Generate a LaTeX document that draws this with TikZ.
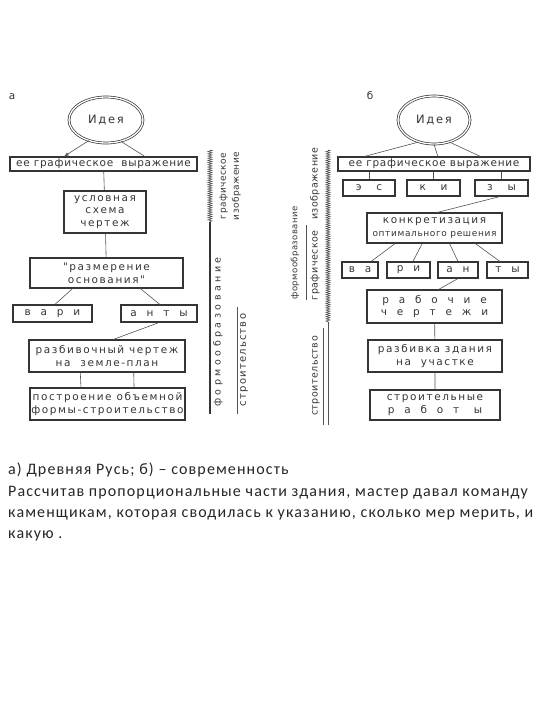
\documentclass[tikz,border=0pt]{standalone}
\usepackage{fontspec}
\setmainfont{Carlito}
\newfontfamily\scanfont[LetterSpace=15]{DejaVu Sans}
\newfontfamily\tightfont[LetterSpace=7]{DejaVu Sans}
\newfontfamily\sidefont[LetterSpace=5]{DejaVu Sans}
\newfontfamily\widefont[LetterSpace=12]{DejaVu Sans}
\newfontfamily\capfont[LetterSpace=7]{Carlito}
\usetikzlibrary{positioning, shapes.geometric, decorations.pathmorphing, calc, arrows}
\definecolor{ink}{HTML}{353535}
\newcommand\boxfont{\scanfont\fontsize{10.5}{12.5}\selectfont}
\newcommand\tightsize{\tightfont\fontsize{10.5}{12.5}\selectfont}
\newcommand\sidesize{\sidefont\fontsize{9.5}{12}\selectfont}

\tikzset{
  blk/.style = {draw = ink, line width = 1.1pt, inner sep = 0pt, align = center,
    text = ink, font = \boxfont},
  idea/.style = {ellipse, draw = ink, double, double distance = 1.3pt,
    line width = 0.7pt, inner sep = 0pt, text = ink, font = \scanfont\fontsize{11.5}{13}\selectfont},
  lnk/.style = {draw = ink!85, line width = 0.6pt},
  side/.style = {rotate = 90, inner sep = 0pt, text = ink, font = \sidesize,
    align = center},
  wavy/.style = {lnk, decorate, decoration = {zigzag, amplitude = 2pt,
    segment length = 2.2pt}},
  captxt/.style = {anchor = base west, inner sep = 0pt, text = black!85,
    font = \capfont\fontsize{16}{20}\selectfont}
}

\begin{document}
\begin{tikzpicture} [x = 1pt, y = -1pt]
    \useasboundingbox (0, 0) rectangle (540, 720);

    % а) Древняя Русь
    \node (labA) [text = ink, font = \boxfont] at (12, 97) {а};
    \node (idA) [idea, minimum width = 74pt, minimum height = 46pt] at (106, 120) {Идея};
    \node (grA) [blk, font = \tightsize, minimum width = 187pt, minimum height = 14pt] at (103.5, 164)
        {ее графическое\ \ выражение};
    \node (uslA) [blk, minimum width = 82pt, minimum height = 42pt] at (105, 212)
        {условная\\схема\\чертеж};
    \node (razA) [blk, minimum width = 153pt, minimum height = 30pt] at (106.5, 273)
        {"размерение\\основания"};
    \node (variA) [blk, minimum width = 79pt, minimum height = 17pt] at (52.5, 313.5)
        {в\ \ а\ \ р\ \ и};
    \node (antyA) [blk, minimum width = 76pt, minimum height = 17pt] at (159, 313.5)
        {а\ \ н\ \ т\ \ ы};
    \node (plnA) [blk, minimum width = 156pt, minimum height = 32pt] at (107, 356)
        {разбивочный чертеж\\на\ \ земле-план};
    \node (strA) [blk, minimum width = 155pt, minimum height = 32pt] at (107.5, 404)
        {построение объемной\\формы-строительство};

    \draw [lnk, -latex] (idA.230) -- ($(grA.north west)!0.29!(grA.north east)$);
    \draw [lnk] (idA.305) -- ($(grA.north west)!0.72!(grA.north east)$);
    \draw [lnk] (grA) -- (uslA) (uslA) -- (razA);
    \draw [lnk] ($(razA.south west)!0.28!(razA.south east)$) -- ($(variA.north west)!0.53!(variA.north east)$)
        ($(razA.south west)!0.72!(razA.south east)$) -- ($(antyA.north west)!0.51!(antyA.north east)$);
    \draw [lnk] (antyA.south) -- ($(plnA.north west)!0.54!(plnA.north east)$);
    \draw [lnk] ($(plnA.south west)!0.33!(plnA.south east)$) -- ($(strA.north west)!0.33!(strA.north east)$)
        ($(plnA.south west)!0.67!(plnA.south east)$) -- ($(strA.north west)!0.67!(strA.north east)$);

    \coordinate (zA1) at (210, 150); \coordinate (zA2) at (210, 222);
    \coordinate (zA3) at (210, 414);
    \draw [wavy] (zA1) -- (zA2);
    \draw [draw = ink, line width = 1.6pt] (zA2) -- (zA3);
    \node (formA) [side] at (218, 332) {ф\ о\ р\ м\ о\ о\ б\ р\ а\ з\ о\ в\ а\ н\ и\ е};
    \node (grfA) [side, font = \sidefont\fontsize{9}{13}\selectfont] at (230, 186)
        {графическое\\изображение};
    \coordinate (sA1) at (237, 307); \coordinate (sA2) at (237, 414);
    \draw [lnk, line width = 0.9pt] (sA1) -- (sA2);
    \node (stroiA) [side, font = \widefont\fontsize{10}{12}\selectfont] at (244, 360) {строительство};

    % б) современность
    \node (labB) [text = ink, font = \boxfont] at (370, 95) {б};
    \node (idB) [idea, minimum width = 72pt, minimum height = 48pt] at (434, 120) {Идея};
    \node (grB) [blk, font = \tightsize, minimum width = 192pt, minimum height = 14pt] at (434, 164)
        {ее графическое выражение};
    \node (esB) [blk, minimum width = 52pt, minimum height = 16pt] at (369, 188) {э\ \ \ с};
    \node (kiB) [blk, minimum width = 53pt, minimum height = 16pt] at (433.5, 188) {к\ \ \ и};
    \node (zyB) [blk, minimum width = 53pt, minimum height = 16pt] at (501.5, 188) {з\ \ \ ы};
    \node (knB) [blk, minimum width = 135pt, minimum height = 30pt] at (434.5, 228)
        {конкретизация\\{\tightfont\fontsize{9}{11}\selectfont оптимального решения}};
    \node (vaB) [blk, minimum width = 36pt, minimum height = 16pt] at (360, 270) {в\ \ а};
    \node (riB) [blk, minimum width = 43pt, minimum height = 16pt] at (408.5, 270) {р\ \ и};
    \node (anB) [blk, minimum width = 40pt, minimum height = 16pt] at (458, 270) {а\ \ н};
    \node (tyB) [blk, minimum width = 41pt, minimum height = 16pt] at (507.5, 270) {т\ \ ы};
    \node (rbB) [blk, minimum width = 135pt, minimum height = 33pt] at (434.5, 306.5)
        {р\ \ а\ \ б\ \ о\ \ ч\ \ и\ \ е\\ч\ \ е\ \ р\ \ т\ \ е\ \ ж\ \ и};
    \node (rzB) [blk, minimum width = 134pt, minimum height = 32pt] at (435, 356)
        {разбивка здания\\на\ \ участке};
    \node (stB) [blk, minimum width = 130pt, minimum height = 30pt] at (435, 405)
        {строительные\\р\ \ а\ \ б\ \ о\ \ т\ \ \ ы};

    \draw [lnk] (idB.235) -- ($(grB.north west)!0.14!(grB.north east)$)
        (idB.south) -- ($(grB.north west)!0.52!(grB.north east)$)
        (idB.305) -- ($(grB.north west)!0.74!(grB.north east)$);
    \draw [lnk] (esB.north |- grB.south) -- (esB.north)
        (kiB.north |- grB.south) -- (kiB.north)
        (zyB.north |- grB.south) -- (zyB.north);
    \draw [lnk] ($(zyB.south west)!0.47!(zyB.south east)$) -- ($(knB.north west)!0.52!(knB.north east)$);
    \draw [lnk] ($(knB.south west)!0.21!(knB.south east)$) -- ($(vaB.north west)!0.8!(vaB.north east)$)
        ($(knB.south west)!0.41!(knB.south east)$) -- ($(riB.north west)!0.6!(riB.north east)$)
        ($(knB.south west)!0.61!(knB.south east)$) -- ($(anB.north west)!0.5!(anB.north east)$)
        ($(knB.south west)!0.8!(knB.south east)$) -- ($(tyB.north west)!0.32!(tyB.north east)$);
    \draw [lnk] (anB.south) -- ($(rbB.north west)!0.53!(rbB.north east)$);
    \draw [lnk] (rbB) -- (rzB) (rzB) -- (stB);

    \node (formB) [side, font = \sidefont\fontsize{8.5}{10}\selectfont] at (295, 253) {формообразование};
    \coordinate (fB1) at (306, 225); \coordinate (fB2) at (306, 300);
    \draw [lnk] (fB1) -- (fB2);
    \node (grfB) [side] at (315, 224) {графическое\ \ \ изображение};
    \node (stroiB) [side] at (316, 376) {строительство};
    \coordinate (sB1) at (323, 328); \coordinate (sB2) at (323, 425);
    \draw [lnk, line width = 0.9pt] (sB1) -- (sB2);
    \coordinate (zB1) at (328, 150); \coordinate (zB2) at (328, 322);
    \coordinate (zB3) at (328, 425);
    \draw [wavy] (zB1) -- (zB2);
    \draw [lnk] (zB2) -- (zB3);

    % подпись
    \node (capA) [captxt] at (8, 474) {а) Древняя Русь; б) – современность};
    \node (capB) [captxt] at (8, 496) {Рассчитав пропорциональные части здания, мастер давал команду};
    \node (capC) [captxt] at (8, 517) {каменщикам, которая сводилась к указанию, сколько мер мерить, и};
    \node (capD) [captxt] at (8, 538) {какую .};

\end{tikzpicture}
\end{document}
